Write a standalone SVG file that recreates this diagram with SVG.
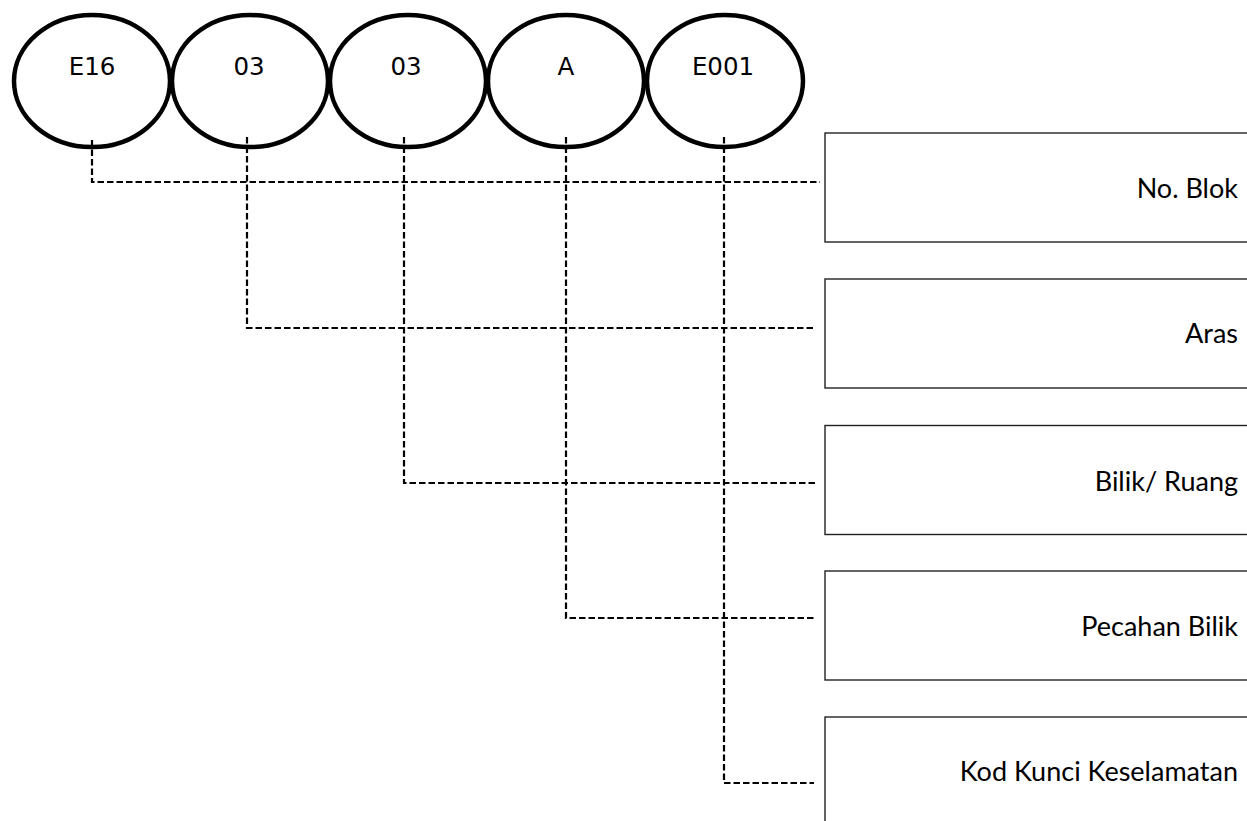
<svg xmlns="http://www.w3.org/2000/svg" width="1247" height="821" viewBox="0 0 1247 821">
  <style>
    .oval { fill: #ffffff; stroke: #000000; stroke-width: 4.5; }
    .otxt { font-family: "DejaVu Sans", Verdana, sans-serif; font-size: 24.5px; fill: #000000; text-anchor: middle; }
    .box { fill: #ffffff; stroke: #222222; stroke-width: 1.4; }
    .btxt { font-family: Lato, "Open Sans", "Liberation Sans", sans-serif; font-size: 27px; fill: #000000; text-anchor: end; }
    .conn { fill: none; stroke: #000000; stroke-width: 2.2; stroke-dasharray: 6.5 3; }
  </style>
  <rect x="0" y="0" width="1247" height="821" fill="#ffffff"/>

  <g id="box-blok">
    <rect class="box" x="825" y="133" width="460" height="109"/>
    <text class="btxt" x="1238" y="198">No. Blok</text>
  </g>
  <g id="box-aras">
    <rect class="box" x="825" y="279" width="460" height="109"/>
    <text class="btxt" x="1238" y="343">Aras</text>
  </g>
  <g id="box-bilik">
    <rect class="box" x="825" y="425.5" width="460" height="109"/>
    <text class="btxt" x="1238" y="491">Bilik/ Ruang</text>
  </g>
  <g id="box-pecahan">
    <rect class="box" x="825" y="571" width="460" height="109"/>
    <text class="btxt" x="1238" y="636">Pecahan Bilik</text>
  </g>
  <g id="box-kod">
    <rect class="box" x="825" y="717" width="460" height="130"/>
    <text class="btxt" x="1238" y="781">Kod Kunci Keselamatan</text>
  </g>

  <g id="oval-e16">
    <ellipse class="oval" cx="92" cy="81" rx="78" ry="66"/>
    <text class="otxt" x="92" y="75">E16</text>
  </g>
  <g id="oval-03a">
    <ellipse class="oval" cx="250" cy="81" rx="78" ry="66"/>
    <text class="otxt" x="249" y="75">03</text>
  </g>
  <g id="oval-03b">
    <ellipse class="oval" cx="408" cy="81" rx="78" ry="66"/>
    <text class="otxt" x="406" y="75">03</text>
  </g>
  <g id="oval-a">
    <ellipse class="oval" cx="566" cy="81" rx="78" ry="66"/>
    <text class="otxt" x="566" y="75">A</text>
  </g>
  <g id="oval-e001">
    <ellipse class="oval" cx="725" cy="81" rx="78" ry="66"/>
    <text class="otxt" x="723" y="75">E001</text>
  </g>

  <g id="connectors">
    <path class="conn" d="M92 140 V182 H820"/>
    <path class="conn" d="M247 137 V328 H816"/>
    <path class="conn" d="M404 137 V483 H816"/>
    <path class="conn" d="M566 137 V618 H816"/>
    <path class="conn" d="M724 137 V783 H814"/>
  </g>
</svg>
